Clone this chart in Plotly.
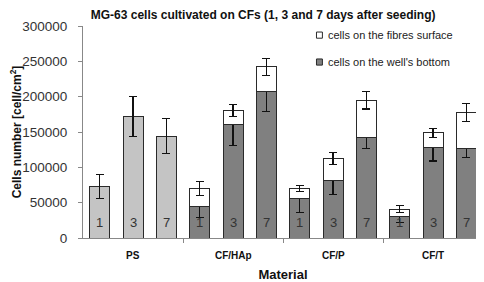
import plotly.graph_objects as go

groups = ["PS", "CF/HAp", "CF/P", "CF/T"]
days = ["1", "3", "7"]

# PS (control) totals and errors
ps_values = [73000, 172000, 144000]
ps_err = [17500, 28500, 25000]

# CF groups: cells on the well's bottom
bottom_values = [45000, 160000, 208000, 55500, 81500, 142500, 30500, 128000, 127000]
bottom_err = [16000, 28500, 29500, 19000, 19500, 15500, 8000, 19000, 13500]
# CF groups: totals (bottom + fibres surface)
total_values = [70000, 180000, 242500, 70000, 112500, 195000, 41000, 149000, 178000]
total_err = [9500, 8500, 12000, 4500, 8000, 12500, 4500, 6500, 12500]
surface_values = [t - b for t, b in zip(total_values, bottom_values)]

legend_names = ["cells on the fibres surface", "cells on the well's bottom"]
legend_colors = ["#ffffff", "#808080"]

n_per = len(days)
ps_x = list(range(n_per))
cf_x = list(range(n_per, n_per * len(groups)))
all_x = ps_x + cf_x
day_labels = days * len(groups)

FONT = "Liberation Sans, Arial, sans-serif"
EDGE = "#2a2a2a"
err_style = dict(type="data", visible=True, color="#111111", thickness=1.1, width=4)

fig = go.Figure()
fig.add_trace(go.Bar(
    x=ps_x, y=ps_values, width=0.6, showlegend=False,
    marker=dict(color="#c4c4c4", line=dict(color=EDGE, width=1)),
    error_y=dict(array=ps_err, **err_style),
))
fig.add_trace(go.Bar(
    x=cf_x, y=bottom_values, width=0.6, name=legend_names[1], showlegend=False,
    marker=dict(color=legend_colors[1], line=dict(color=EDGE, width=1)),
    error_y=dict(array=bottom_err, **err_style),
))
fig.add_trace(go.Bar(
    x=cf_x, y=surface_values, width=0.6, name=legend_names[0], showlegend=False,
    marker=dict(color=legend_colors[0], line=dict(color=EDGE, width=1)),
    error_y=dict(array=total_err, **err_style),
))

annotations = []
for xi, d in zip(all_x, day_labels):
    annotations.append(dict(x=xi, y=0, xref="x", yref="y", text=d, showarrow=False,
                            yanchor="bottom", yshift=6,
                            font=dict(family=FONT, size=13, color="#333333")))
for gi, g in enumerate(groups):
    annotations.append(dict(x=gi * n_per + 1, y=0, xref="x", yref="paper", text="<b>" + g + "</b>",
                            showarrow=False, yanchor="middle", yshift=-17,
                            font=dict(family=FONT, size=10, color="#111111")))

# manual legend (square + text), positions in paper coords of the plot area
shapes = []
leg_rows = [0.957, 0.830]
for name, col, yc in zip(legend_names, legend_colors, leg_rows):
    shapes.append(dict(type="rect", xref="paper", yref="paper",
                       x0=0.5837, x1=0.5985, y0=yc - 0.0145, y1=yc + 0.0145,
                       fillcolor=col, line=dict(color=EDGE, width=1)))
    annotations.append(dict(x=0.6085, y=yc, xref="paper", yref="paper", text=name,
                            showarrow=False, xanchor="left", yanchor="middle",
                            font=dict(family=FONT, size=11, color="#222222")))

fig.update_layout(
    width=476, height=274,
    margin=dict(l=69, r=1, t=18, b=44),
    paper_bgcolor="white", plot_bgcolor="white",
    barmode="stack",
    bargap=0.4,
    showlegend=False,
    title=dict(text="<b>MG-63 cells cultivated on CFs (1, 3 and 7 days after seeding)</b>",
               x=0.536, xanchor="center", y=0.99, yanchor="top", pad=dict(t=0, b=0),
               font=dict(family=FONT, size=12, color="#111111")),
    font=dict(family=FONT, color="#333333"),
    xaxis=dict(range=[-0.5, len(all_x) - 0.5],
               tickvals=[n_per * k - 0.5 for k in range(1, len(groups))],
               ticktext=["", "", ""], ticks="outside", ticklen=4, tickcolor="#888888",
               showline=True, linecolor="#888888", linewidth=1, showgrid=False, zeroline=False,
               title=dict(text="<b>Material</b>", standoff=29,
                          font=dict(family=FONT, size=13, color="#111111"))),
    yaxis=dict(range=[0, 300000], dtick=50000, tickformat="d",
               ticks="outside", ticklen=4, tickcolor="#888888", ticklabelstandoff=8,
               showline=True, linecolor="#888888", linewidth=1, showgrid=False, zeroline=False,
               tickfont=dict(family=FONT, size=13.5, color="#333333"),
               title=dict(text="<b>Cells number [cell/cm<sup>2</sup>]</b>", standoff=5,
                          font=dict(family=FONT, size=12, color="#111111"))),
    shapes=shapes,
    annotations=annotations,
)

fig.write_html("out.html")
